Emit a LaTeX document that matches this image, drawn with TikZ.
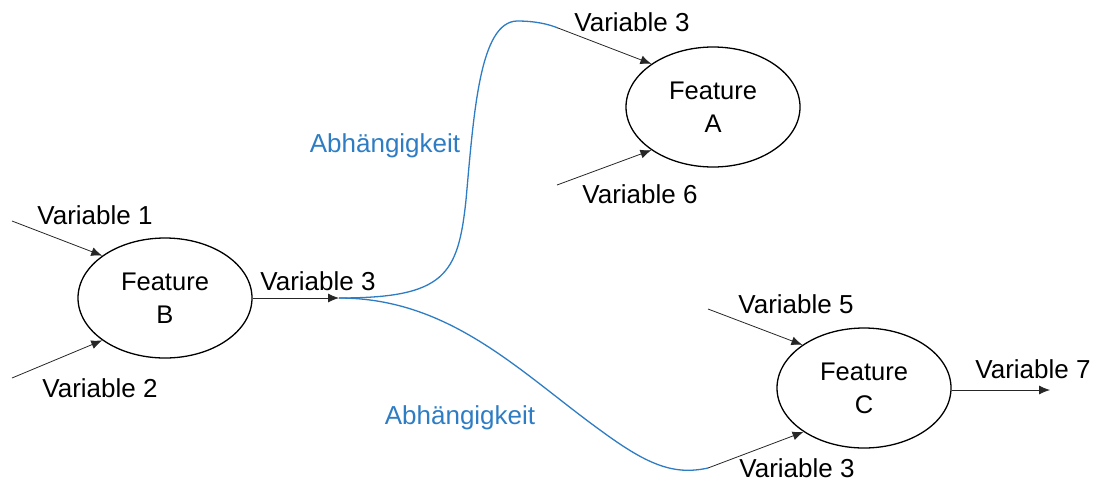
\documentclass[tikz,border=0pt]{standalone}
\usepackage{fontspec}
\setmainfont{Liberation Sans}
\usetikzlibrary{arrows.meta,shapes.geometric}
\definecolor{linkblue}{HTML}{2E7DC4}
\begin{document}
\begin{tikzpicture}[x=1pt,y=-1pt,
  feature/.style={draw, line width=1.3pt, ellipse, minimum width=174pt, minimum height=120pt,
    inner sep=0pt, align=center, font=\fontsize{25.5}{33}\selectfont},
  lbl/.style={inner sep=0pt, font=\fontsize{26}{30}\selectfont},
  dep/.style={lbl, text=linkblue},
  flow/.style={draw=black!85, line width=0.8pt, -{Latex[length=11pt,width=9pt]}},
  link/.style={draw=linkblue, line width=1.3pt}]
\useasboundingbox (0,0) rectangle (1097,483);

% features
\node[feature] (fb) at (165,298) {Feature\\B};
\node[feature] (fa) at (713,107) {Feature\\A};
\node[feature] (fc) at (864,388) {Feature\\C};

% free ends of the variable arrows
\coordinate (v1) at (12,221);
\coordinate (v2) at (12,378);
\coordinate (bo) at (339,298);
\coordinate (a3) at (558,28);
\coordinate (a6) at (557,185);
\coordinate (c5) at (708,309);
\coordinate (c3) at (708,468);
\coordinate (c7) at (1050,390);

% arrows
\draw[flow] (v1) -- (fb.146);
\draw[flow] (v2) -- (fb.214);
\draw[flow] (fb.east) -- (bo);
\draw[flow] (a3) -- (fa.145);
\draw[flow] (a6) -- (fa.215);
\draw[flow] (c5) -- (fc.145);
\draw[flow] (c3) -- (fc.216);
\draw[flow] (fc.east |- c7) -- (c7);

% dependency curves
\draw[link] (bo) .. controls (445,298) and (458,275) .. (466,200)
  .. controls (474,110) and (480,22) .. (517,21)
  .. controls (535,21) and (548,24) .. (a3);
\draw[link] (bo) .. controls (450,298) and (520,372) .. (600,430)
  .. controls (645,463) and (672,476) .. (c3);

% labels
\node[lbl] (t1) at (95,215) {Variable 1};
\node[lbl] (t2) at (100,388) {Variable 2};
\node[lbl] (tb) at (318,281) {Variable 3};
\node[lbl] (ta3) at (632,22) {Variable 3};
\node[lbl] (ta6) at (640,194) {Variable 6};
\node[lbl] (tc5) at (796,304) {Variable 5};
\node[lbl] (tc3) at (797,468) {Variable 3};
\node[lbl] (tc7) at (1033,369) {Variable 7};
\node[dep] (d1) at (385,146) {Abhängigkeit};
\node[dep] (d2) at (460,418) {Abhängigkeit};
\end{tikzpicture}
\end{document}
